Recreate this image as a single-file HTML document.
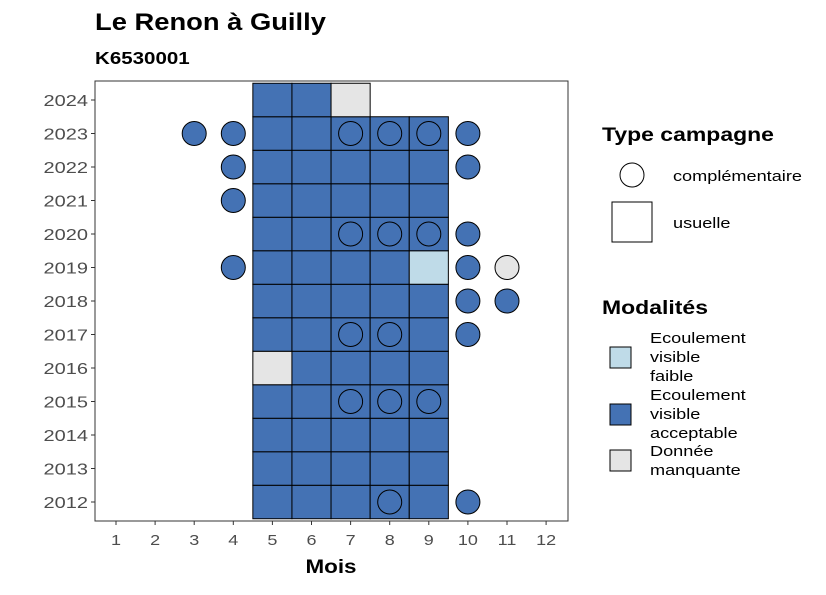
<!DOCTYPE html>
<html><head><meta charset="utf-8"><style>
body{margin:0;background:#fff;font-family:"Liberation Sans",sans-serif}
</style></head><body>
<svg id="chart" width="826" height="590" xmlns="http://www.w3.org/2000/svg" font-family="Liberation Sans, sans-serif">
<text transform="translate(95,30) scale(1.14,1)" font-size="24" font-weight="bold" fill="#000">Le Renon à Guilly</text>
<text transform="translate(95,64) scale(1.14,1)" font-size="18" font-weight="bold" fill="#000">K6530001</text>
<g id="plot"></g>
<rect x="95" y="81" width="473" height="440" fill="none" stroke="#333" stroke-width="1"/>
<text transform="translate(331,573) scale(1.18,1)" font-size="19" font-weight="bold" text-anchor="middle">Mois</text>
<g>
<text transform="translate(602,141) scale(1.21,1)" font-size="19" font-weight="bold">Type campagne</text>
<circle cx="632" cy="175" r="12" fill="#fff" stroke="#000"/>
<text transform="translate(673,181) scale(1.21,1)" font-size="15">complémentaire</text>
<rect x="612" y="202" width="40" height="40" fill="#fff" stroke="#000"/>
<text transform="translate(673,228) scale(1.21,1)" font-size="15">usuelle</text>
</g>
<g>
<text transform="translate(602,314) scale(1.21,1)" font-size="19" font-weight="bold">Modalités</text>
<rect x="610" y="347" width="21" height="21" fill="#bfdbe8" stroke="#000"/>
<text transform="translate(650,343) scale(1.21,1)" font-size="15">Ecoulement</text>
<text transform="translate(650,362) scale(1.21,1)" font-size="15">visible</text>
<text transform="translate(650,381) scale(1.21,1)" font-size="15">faible</text>
<rect x="610" y="404" width="21" height="21" fill="#4472b4" stroke="#000"/>
<text transform="translate(650,400) scale(1.21,1)" font-size="15">Ecoulement</text>
<text transform="translate(650,419) scale(1.21,1)" font-size="15">visible</text>
<text transform="translate(650,438) scale(1.21,1)" font-size="15">acceptable</text>
<rect x="610" y="450" width="21" height="21" fill="#e5e5e5" stroke="#000"/>
<text transform="translate(650,456) scale(1.21,1)" font-size="15">Donnée</text>
<text transform="translate(650,475) scale(1.21,1)" font-size="15">manquante</text>
</g>
</svg>
<script>
const months=[1,2,3,4,5,6,7,8,9,10,11,12];
const years=[2012,2013,2014,2015,2016,2017,2018,2019,2020,2021,2022,2023,2024];
const tileMonths=[5,6,7,8,9];
const tileYears=[2012,2013,2014,2015,2016,2017,2018,2019,2020,2021,2022,2023];
const tileExceptions={"2016-5":"M","2019-9":"F"};
const extraTiles=[[2024,5,"A"],[2024,6,"A"],[2024,7,"M"]];
const circles=[[2023,3,"A"],[2023,4,"A"],[2023,7,"A"],[2023,8,"A"],[2023,9,"A"],[2023,10,"A"],
[2022,4,"A"],[2022,10,"A"],[2021,4,"A"],[2020,7,"A"],[2020,8,"A"],[2020,9,"A"],[2020,10,"A"],
[2019,4,"A"],[2019,10,"A"],[2019,11,"M"],[2018,10,"A"],[2018,11,"A"],[2017,7,"A"],[2017,8,"A"],[2017,10,"A"],
[2015,7,"A"],[2015,8,"A"],[2015,9,"A"],[2012,8,"A"],[2012,10,"A"]];
const colors={A:"#4472b4",F:"#bfdbe8",M:"#e5e5e5"};
const xS=m=>116+(m-1)*39.1;
const yS=y=>502-(y-2012)*33.5;
const tileH=33.5;
const NS="http://www.w3.org/2000/svg";
const g=document.getElementById("plot");
function mk(t,a){const e=document.createElementNS(NS,t);for(const k in a)e.setAttribute(k,a[k]);g.appendChild(e);return e;}
const tiles=[];
tileYears.forEach(y=>tileMonths.forEach(m=>tiles.push([y,m,tileExceptions[y+"-"+m]||"A"])));
extraTiles.forEach(t=>tiles.push(t));
tiles.forEach(t=>{const r=mk("rect",{x:xS(t[1])-19.55,y:yS(t[0])-tileH/2,width:39.1,height:tileH,fill:colors[t[2]],stroke:"#000","stroke-width":1});

});
circles.forEach(c=>{const e=mk("circle",{cx:xS(c[1]),cy:yS(c[0]),r:12,fill:colors[c[2]],stroke:"#000","stroke-width":1});

});
months.forEach(m=>{mk("line",{x1:xS(m),x2:xS(m),y1:521,y2:525,stroke:"#333"});
const t=mk("text",{transform:"translate("+xS(m)+",545) scale(1.2,1)","font-size":15,fill:"#4d4d4d","text-anchor":"middle"});t.textContent=m;

});
years.forEach(y=>{mk("line",{x1:91,x2:95,y1:yS(y),y2:yS(y),stroke:"#333"});
const t=mk("text",{transform:"translate(88,"+(yS(y)+6)+") scale(1.25,1)","font-size":16,fill:"#4d4d4d","text-anchor":"end"});t.textContent=y;

});
</script>
</body></html>
